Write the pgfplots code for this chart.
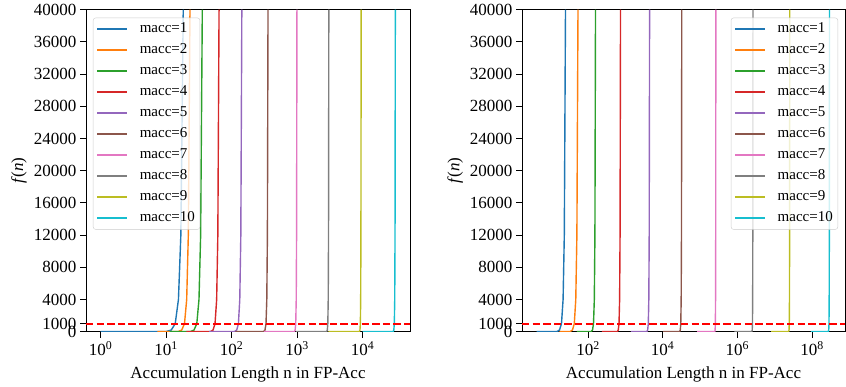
\documentclass[border=0pt]{standalone}
\usepackage{pgfplots}
\pgfplotsset{compat=1.18}
\usepackage{fontspec}
\setmainfont{Liberation Serif}
\definecolor{c0}{HTML}{1F77B4}
\definecolor{c1}{HTML}{FF7F0E}
\definecolor{c2}{HTML}{2CA02C}
\definecolor{c3}{HTML}{D62728}
\definecolor{c4}{HTML}{9467BD}
\definecolor{c5}{HTML}{8C564B}
\definecolor{c6}{HTML}{E377C2}
\definecolor{c7}{HTML}{7F7F7F}
\definecolor{c8}{HTML}{BCBD22}
\definecolor{c9}{HTML}{17BECF}
\definecolor{legedge}{HTML}{CCCCCC}
\pgfplotsset{
  legend image code/.code={\draw[#1, line width=1.8pt] (0pt,0pt) -- (30pt,0pt); \path (40pt,0pt);},
  every axis y label/.style={at={(axis description cs:-0.207,0.5)}, rotate=90, anchor=center},
  every axis x label/.style={at={(axis description cs:0.5,0)}, anchor=center, yshift=-43pt},
}
\begin{document}
\begin{tikzpicture}
\path[use as bounding box] (0pt,0pt) rectangle (846pt,387pt);
\begin{axis}[at={(86pt,55.3pt)}, anchor=south west, width=324pt,
  scale only axis, height=322pt, xmode=log, ymin=0, ymax=40000,
  ytick={0,1000,4000,8000,12000,16000,20000,24000,28000,32000,36000,40000},
  scaled y ticks=false,
  /pgf/number format/assume math mode=true,
  /pgf/number format/1000 sep={},
  tick label style={font=\fontsize{17}{17}\selectfont},
  tick align=outside, major tick length=6pt, xminorticks=false, yminorticks=false,
  tick style={black, line width=0.8pt},
  tick pos=left,
  axis line style={line width=0.8pt},
  every axis plot/.append style={line width=1.4pt},
  xlabel={Accumulation Length n in FP-Acc},
  ylabel={\textit{f}(\textit{n})},
  label style={font=\fontsize{17}{17}\selectfont},
  legend style={font=\fontsize{15}{17}\selectfont, draw=legedge, rounded corners=2.5pt,
    fill=white, fill opacity=0.8, text opacity=1, inner xsep=3pt, inner ysep=4pt, row sep=6.5pt,
    nodes={text height=9.5pt, text depth=3pt, inner ysep=1pt}},
  legend cell align=left,
  xmin=0.596, xmax=53100,
  xtick={1,10,100,1000,10000},
  xticklabels={10\textsuperscript{0},10\textsuperscript{1},10\textsuperscript{2},10\textsuperscript{3},10\textsuperscript{4}},
  legend style={at={(axis description cs:0,1)}, anchor=north west, xshift=7pt, yshift=-8pt}]
\addplot[c0] coordinates {(1,0) (9.80,0) (11.95,200) (13.75,1000) (15.40,4000) (16.76,12000) (18.24,40000)};
\addplot[c1] coordinates {(7.31,0) (15.07,0) (17.27,200) (19.05,1000) (20.58,4000) (21.80,12000) (23.12,40000)};
\addplot[c2] coordinates {(11.27,0) (23.24,0) (26.63,200) (29.38,1000) (31.73,4000) (33.62,12000) (35.65,40000)};
\addplot[c3] coordinates {(20.3,0) (47.11,0) (52.00,200) (55.79,1000) (59.06,4000) (61.57,12000) (64.27,40000)};
\addplot[c4] coordinates {(45.3,0) (110.0,0) (119.6,200) (127.0,1000) (133.2,4000) (138.2,12000) (143.2,40000)};
\addplot[c5] coordinates {(113.7,0) (307.9,0) (323.4,200) (335.2,1000) (344.6,4000) (352.1,12000) (359.7,40000)};
\addplot[c6] coordinates {(314.8,0) (906.8,0) (933.7,200) (953.6,1000) (970.5,4000) (982.5,12000) (995.4,40000)};
\addplot[c7] coordinates {(966,0) (2826,0) (2896,200) (2948,1000) (2991,4000) (3023,12000) (3055,40000)};
\addplot[c8] coordinates {(3013,0) (8956,0) (9128,200) (9261,1000) (9366,4000) (9447,12000) (9528,40000)};
\addplot[c9] coordinates {(10023,0) (29319,0) (30048,200) (30587,1000) (31030,4000) (31363,12000) (31696,40000)};
\addplot[red, line width=2pt, dash pattern=on 7.4pt off 3.2pt, forget plot] coordinates {(0.596,1000) (53100,1000)};
\legend{macc=1,macc=2,macc=3,macc=4,macc=5,macc=6,macc=7,macc=8,macc=9,macc=10}
\end{axis}
\begin{axis}[at={(522pt,55.3pt)}, anchor=south west, width=323pt,
  scale only axis, height=322pt, xmode=log, ymin=0, ymax=40000,
  ytick={0,1000,4000,8000,12000,16000,20000,24000,28000,32000,36000,40000},
  scaled y ticks=false,
  /pgf/number format/assume math mode=true,
  /pgf/number format/1000 sep={},
  tick label style={font=\fontsize{17}{17}\selectfont},
  tick align=outside, major tick length=6pt, xminorticks=false, yminorticks=false,
  tick style={black, line width=0.8pt},
  tick pos=left,
  axis line style={line width=0.8pt},
  every axis plot/.append style={line width=1.4pt},
  xlabel={Accumulation Length n in FP-Acc},
  ylabel={\textit{f}(\textit{n})},
  label style={font=\fontsize{17}{17}\selectfont},
  legend style={font=\fontsize{15}{17}\selectfont, draw=legedge, rounded corners=2.5pt,
    fill=white, fill opacity=0.8, text opacity=1, inner xsep=3pt, inner ysep=4pt, row sep=6.5pt,
    nodes={text height=9.5pt, text depth=3pt, inner ysep=1pt}},
  legend cell align=left,
  xmin=1.706, xmax=7.67e8,
  xtick={100,10000,1000000,100000000},
  xticklabels={10\textsuperscript{2},10\textsuperscript{4},10\textsuperscript{6},10\textsuperscript{8}},
  legend style={at={(axis description cs:1,1)}, anchor=north east, xshift=-7pt, yshift=-8pt}]
\addplot[c0] coordinates {(4.2,0) (14.50,0) (17.24,200) (19.49,1000) (21.51,4000) (23.18,12000) (24.95,40000)};
\addplot[c1] coordinates {(17.06,0) (32.64,0) (38.30,200) (42.94,1000) (47.04,4000) (50.39,12000) (53.95,40000)};
\addplot[c2] coordinates {(50.2,0) (121.1,0) (132.0,200) (140.5,1000) (147.6,4000) (153.2,12000) (158.9,40000)};
\addplot[c3] coordinates {(235,0) (606.3,0) (646.4,200) (677.6,1000) (702.9,4000) (722.6,12000) (743.0,40000)};
\addplot[c4] coordinates {(1413,0) (3743,0) (3962,200) (4123,1000) (4257,4000) (4360,12000) (4467,40000)};
\addplot[c5] coordinates {(10281,0) (28381,0) (29649,200) (30559,1000) (31340,4000) (31915,12000) (32510,40000)};
\addplot[c6] coordinates {(84150,0) (248537,0) (254126,200) (258117,1000) (261230,4000) (263652,12000) (266100,40000)};
\addplot[c7] coordinates {(829800,0) (2450800,0) (2505900,200) (2545300,1000) (2576000,4000) (2599900,12000) (2624000,40000)};
\addplot[c8] coordinates {(8035000,0) (23733000,0) (24267000,200) (24648000,1000) (24945000,4000) (25176000,12000) (25410000,40000)};
\addplot[c9] coordinates {(93100000,0) (274970000,0) (281150000,200) (285570000,1000) (289010000,4000) (291690000,12000) (294400000,40000)};
\addplot[red, line width=2pt, dash pattern=on 7.4pt off 3.2pt, forget plot] coordinates {(1.706,1000) (7.67e8,1000)};
\legend{macc=1,macc=2,macc=3,macc=4,macc=5,macc=6,macc=7,macc=8,macc=9,macc=10}
\end{axis}
\end{tikzpicture}
\end{document}
